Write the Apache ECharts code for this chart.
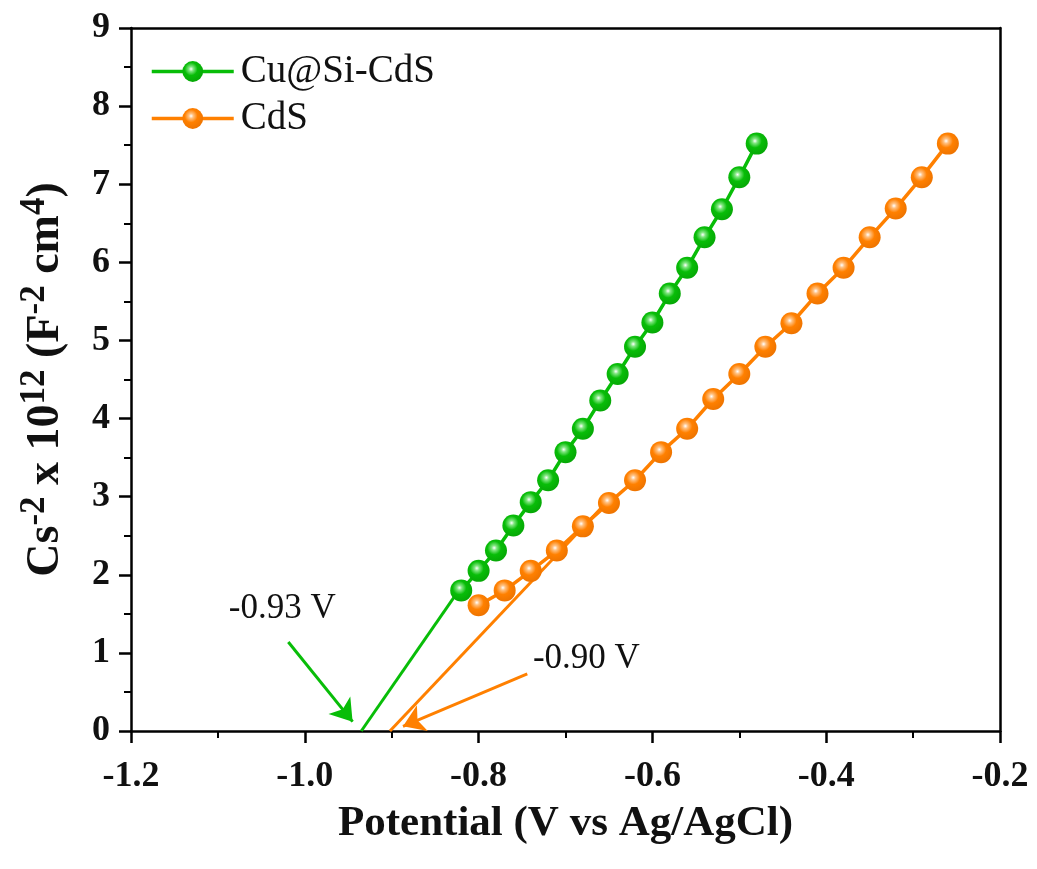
<!DOCTYPE html>
<html>
<head>
<meta charset="utf-8">
<script src="https://cdn.jsdelivr.net/npm/echarts@6/dist/echarts.min.js"></script>
<style>
  html, body { margin: 0; padding: 0; background: #fff; }
  #chart { width: 1037px; height: 869px; }
</style>
</head>
<body>
<div id="chart"></div>
<script>
// Cu@Si-CdS
const cuX = [-0.82, -0.80, -0.78, -0.76, -0.74, -0.72, -0.70, -0.68, -0.66, -0.64, -0.62, -0.60, -0.58, -0.56, -0.54, -0.52, -0.50, -0.48];
const cuY = [1.80, 2.05, 2.31, 2.63, 2.93, 3.21, 3.57, 3.87, 4.23, 4.57, 4.92, 5.23, 5.60, 5.93, 6.32, 6.68, 7.09, 7.52];
// CdS
const cdsX = [-0.80, -0.77, -0.74, -0.71, -0.68, -0.65, -0.62, -0.59, -0.56, -0.53, -0.50, -0.47, -0.44, -0.41, -0.38, -0.35, -0.32, -0.29, -0.26];
const cdsY = [1.61, 1.80, 2.05, 2.31, 2.62, 2.92, 3.21, 3.57, 3.87, 4.25, 4.57, 4.92, 5.22, 5.60, 5.93, 6.32, 6.69, 7.09, 7.52];
// linear fits extrapolated to the x axis
const cuFit = [[-0.935, 0], [-0.824, 1.78]];
const cdsFit = [[-0.902, 0], [-0.65, 2.96]];
// annotations
const cuNote = '-0.93 V';
const cdsNote = '-0.90 V';
const cuArrow = [[-1.019, 1.14], [-0.945, 0.12]];
const cdsArrow = [[-0.744, 0.73], [-0.887, 0.06]];
const cuNoteAt = [-1.026, 1.57];
const cdsNoteAt = [-0.676, 0.92];

const xTicks = { min: -1.2, max: -0.2, interval: 0.2 };
const yTicks = { min: 0, max: 9, interval: 1 };

const GREEN = '#08bd08';
const ORANGE = '#ff8000';
const FONT = 'Liberation Serif';

const zip = (xs, ys) => xs.map((x, i) => [x, ys[i]]);

const ball = (base, mid, dark) => ({
  type: 'radial', x: 0.42, y: 0.38, r: 0.62,
  colorStops: [
    { offset: 0, color: '#ffffff' },
    { offset: 0.18, color: mid },
    { offset: 0.5, color: base },
    { offset: 1, color: dark }
  ]
});

const chart = echarts.init(document.getElementById('chart'));

const axisLine = { show: true, onZero: false, lineStyle: { color: '#000', width: 2.5 } };

const option = {
  animation: false,
  backgroundColor: '#fff',
  grid: { left: 131, right: 37, top: 28, bottom: 138 },
  legend: {
    orient: 'vertical',
    left: 150,
    top: 52,
    padding: 0,
    itemWidth: 82,
    itemHeight: 26,
    itemGap: 8,
    data: ['Cu@Si-CdS', 'CdS'],
    lineStyle: { width: 3.5 },
    textStyle: { fontFamily: FONT, fontSize: 39, color: '#111', padding: [0, 0, 0, 2] }
  },
  xAxis: [
    {
      type: 'value',
      min: xTicks.min,
      max: xTicks.max,
      interval: xTicks.interval,
      name: 'Potential (V vs Ag/AgCl)',
      nameLocation: 'middle',
      nameGap: 71,
      nameTextStyle: { fontFamily: FONT, fontSize: 43, fontWeight: 'bold', color: '#111' },
      axisLine: axisLine,
      axisTick: { show: true, inside: false, length: 12, lineStyle: { color: '#000', width: 2.5 } },
      minorTick: { show: true, splitNumber: 2, length: 7, lineStyle: { color: '#000', width: 2 } },
      axisLabel: {
        margin: 28,
        fontFamily: FONT, fontSize: 36, fontWeight: 'bold', color: '#111',
        formatter: v => v.toFixed(1)
      },
      splitLine: { show: false }
    },
    {
      type: 'value', position: 'top', min: xTicks.min, max: xTicks.max,
      axisLine: axisLine, axisTick: { show: false }, axisLabel: { show: false }, splitLine: { show: false }
    }
  ],
  yAxis: [
    {
      type: 'value',
      min: yTicks.min,
      max: yTicks.max,
      interval: yTicks.interval,
      name: '{b|Cs}{s|-2}{b| x 10}{s|12}{b| (F}{s|-2}{b| cm}{s|4}{b|)}',
      nameLocation: 'middle',
      nameRotate: 90,
      nameGap: 56,
      nameTextStyle: {
        fontFamily: FONT, fontWeight: 'bold', color: '#111',
        rich: {
          b: { fontFamily: FONT, fontSize: 46, fontWeight: 'bold', color: '#111', lineHeight: 58 },
          s: { fontFamily: FONT, fontSize: 35, fontWeight: 'bold', color: '#111', lineHeight: 32, verticalAlign: 'top' }
        }
      },
      axisLine: axisLine,
      axisTick: { show: true, inside: false, length: 12, lineStyle: { color: '#000', width: 2.5 } },
      minorTick: { show: true, splitNumber: 2, length: 7, lineStyle: { color: '#000', width: 2 } },
      axisLabel: { margin: 21, fontFamily: FONT, fontSize: 36, fontWeight: 'bold', color: '#111' },
      splitLine: { show: false }
    },
    {
      type: 'value', position: 'right', min: yTicks.min, max: yTicks.max,
      axisLine: axisLine, axisTick: { show: false }, axisLabel: { show: false }, splitLine: { show: false }
    }
  ],
  series: [
    {
      name: 'cuFit', type: 'line', data: cuFit, showSymbol: false, silent: true,
      lineStyle: { color: GREEN, width: 3 }, z: 1,
      markLine: {
        silent: true, symbol: ['none', 'arrow'], symbolSize: 21,
        label: { show: false },
        lineStyle: { color: GREEN, width: 3, type: 'solid' },
        data: [[{ coord: cuArrow[0] }, { coord: cuArrow[1] }]]
      }
    },
    {
      name: 'cdsFit', type: 'line', data: cdsFit, showSymbol: false, silent: true,
      lineStyle: { color: ORANGE, width: 3 }, z: 1,
      markLine: {
        silent: true, symbol: ['none', 'arrow'], symbolSize: 21,
        label: { show: false },
        lineStyle: { color: ORANGE, width: 3, type: 'solid' },
        data: [[{ coord: cdsArrow[0] }, { coord: cdsArrow[1] }]]
      }
    },
    {
      name: 'Cu@Si-CdS', type: 'line', data: zip(cuX, cuY),
      symbol: 'circle', symbolSize: 22, z: 3,
      lineStyle: { color: GREEN, width: 3.5 },
      itemStyle: { color: ball(GREEN, '#80e680', '#06a806') }
    },
    {
      name: 'CdS', type: 'line', data: zip(cdsX, cdsY),
      symbol: 'circle', symbolSize: 22, z: 3,
      lineStyle: { color: ORANGE, width: 3.5 },
      itemStyle: { color: ball(ORANGE, '#ffc080', '#ee7400') }
    },
    {
      name: 'notes', type: 'scatter', symbolSize: 0, silent: true,
      data: [
        { value: cuNoteAt, label: { formatter: cuNote } },
        { value: cdsNoteAt, label: { formatter: cdsNote } }
      ],
      itemStyle: { opacity: 1 },
      label: {
        show: true, position: 'inside',
        fontFamily: FONT, fontSize: 35, color: '#111',
        textBorderWidth: 0, opacity: 1
      }
    }
  ]
};

chart.setOption(option);
window.addEventListener('resize', () => chart.resize());
</script>
</body>
</html>
